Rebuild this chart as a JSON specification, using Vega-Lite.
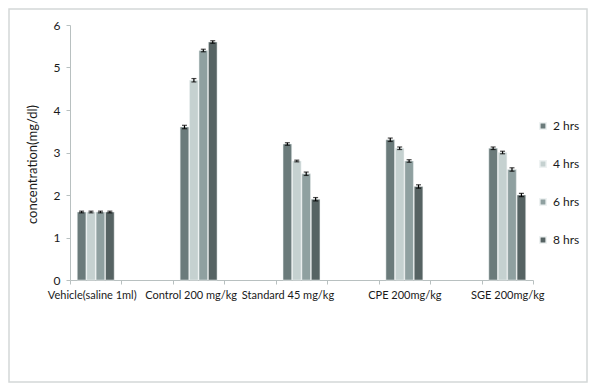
{
  "$schema": "https://vega.github.io/schema/vega-lite/v6.json",
  "width": 578,
  "height": 373,
  "autosize": "none",
  "padding": {"left": 9, "top": 9, "right": 13, "bottom": 6},
  "background": "white",
  "config": {
    "view": {"stroke": "#d4d8d8", "strokeWidth": 1.5},
    "font": "Lato"
  },
  "data": {
    "values": [
      {"group": "Vehicle(saline 1ml)", "time": "2 hrs", "value": 1.6, "err": 0.02},
      {"group": "Vehicle(saline 1ml)", "time": "4 hrs", "value": 1.6, "err": 0.02},
      {"group": "Vehicle(saline 1ml)", "time": "6 hrs", "value": 1.6, "err": 0.02},
      {"group": "Vehicle(saline 1ml)", "time": "8 hrs", "value": 1.6, "err": 0.02},
      {"group": "Control 200 mg/kg", "time": "2 hrs", "value": 3.6, "err": 0.04},
      {"group": "Control 200 mg/kg", "time": "4 hrs", "value": 4.7, "err": 0.04},
      {"group": "Control 200 mg/kg", "time": "6 hrs", "value": 5.4, "err": 0.03},
      {"group": "Control 200 mg/kg", "time": "8 hrs", "value": 5.6, "err": 0.03},
      {"group": "Standard 45 mg/kg", "time": "2 hrs", "value": 3.2, "err": 0.03},
      {"group": "Standard 45 mg/kg", "time": "4 hrs", "value": 2.8, "err": 0.02},
      {"group": "Standard 45 mg/kg", "time": "6 hrs", "value": 2.5, "err": 0.04},
      {"group": "Standard 45 mg/kg", "time": "8 hrs", "value": 1.9, "err": 0.04},
      {"group": "CPE 200mg/kg", "time": "2 hrs", "value": 3.3, "err": 0.04},
      {"group": "CPE 200mg/kg", "time": "4 hrs", "value": 3.1, "err": 0.03},
      {"group": "CPE 200mg/kg", "time": "6 hrs", "value": 2.8, "err": 0.03},
      {"group": "CPE 200mg/kg", "time": "8 hrs", "value": 2.2, "err": 0.04},
      {"group": "SGE 200mg/kg", "time": "2 hrs", "value": 3.1, "err": 0.03},
      {"group": "SGE 200mg/kg", "time": "4 hrs", "value": 3.0, "err": 0.03},
      {"group": "SGE 200mg/kg", "time": "6 hrs", "value": 2.6, "err": 0.04},
      {"group": "SGE 200mg/kg", "time": "8 hrs", "value": 2.0, "err": 0.04}
    ]
  },
  "encoding": {
    "x": {
      "field": "group",
      "type": "nominal",
      "sort": null,
      "scale": {
        "domain": ["Vehicle(saline 1ml)", " ", "Control 200 mg/kg", "  ", "Standard 45 mg/kg", "   ", "CPE 200mg/kg", "    ", "SGE 200mg/kg"],
        "range": [61, 524],
        "paddingInner": 0,
        "paddingOuter": 0
      },
      "axis": {
        "title": null,
        "offset": -102,
        "labelAngle": 0,
        "tickBand": "extent",
        "domainColor": "#b8c0c0",
        "tickColor": "#b8c0c0",
        "tickSize": 4,
        "labelFont": "Lato",
        "labelFontSize": 11,
        "labelColor": "#1a1a1a",
        "labelPadding": 5,
        "labelOverlap": false,
        "labelOffset": {"expr": "datum.value == 'Vehicle(saline 1ml)' ? -4 : datum.value == 'Control 200 mg/kg' ? -8 : datum.value == 'Standard 45 mg/kg' ? -14 : 0"}
      }
    },
    "xOffset": {
      "field": "time",
      "type": "nominal",
      "scale": {"paddingInner": 0.08, "paddingOuter": 0.77}
    },
    "y": {
      "field": "value",
      "type": "quantitative",
      "scale": {"domain": [0, 6], "range": [271, 16], "nice": false},
      "axis": {
        "title": "concentration(mg/dl)",
        "offset": -61,
        "values": [0, 1, 2, 3, 4, 5, 6],
        "grid": false,
        "domainColor": "#b8c0c0",
        "tickColor": "#b8c0c0",
        "tickSize": 4,
        "labelFont": "Lato",
        "labelFontSize": 12,
        "labelColor": "#1a1a1a",
        "labelPadding": 6,
        "titleFont": "Lato",
        "titleFontSize": 13,
        "titleFontWeight": "normal",
        "titleColor": "#1a1a1a",
        "titlePadding": 14,
        "titleY": 155
      }
    }
  },
  "layer": [
    {
      "mark": {"type": "bar", "stroke": "#eef2f2", "strokeWidth": 0.5},
      "encoding": {
        "color": {
          "field": "time",
          "type": "nominal",
          "scale": {
            "domain": ["2 hrs", "4 hrs", "6 hrs", "8 hrs"],
            "range": ["#6b7b7b", "#c5d1d0", "#8fa0a0", "#566363"]
          },
          "legend": {
            "title": null,
            "orient": "none",
            "legendX": 528,
            "legendY": 111,
            "symbolType": "square",
            "symbolSize": 40,
            "rowPadding": 24,
            "labelFont": "Lato",
            "labelFontSize": 12,
            "labelColor": "#1a1a1a",
            "labelOffset": 4
          }
        }
      }
    },
    {
      "mark": {"type": "errorbar", "ticks": {"size": 5, "color": "black"}, "rule": {"color": "black"}, "thickness": 1.2},
      "encoding": {
        "yError": {"field": "err"}
      }
    }
  ]
}
